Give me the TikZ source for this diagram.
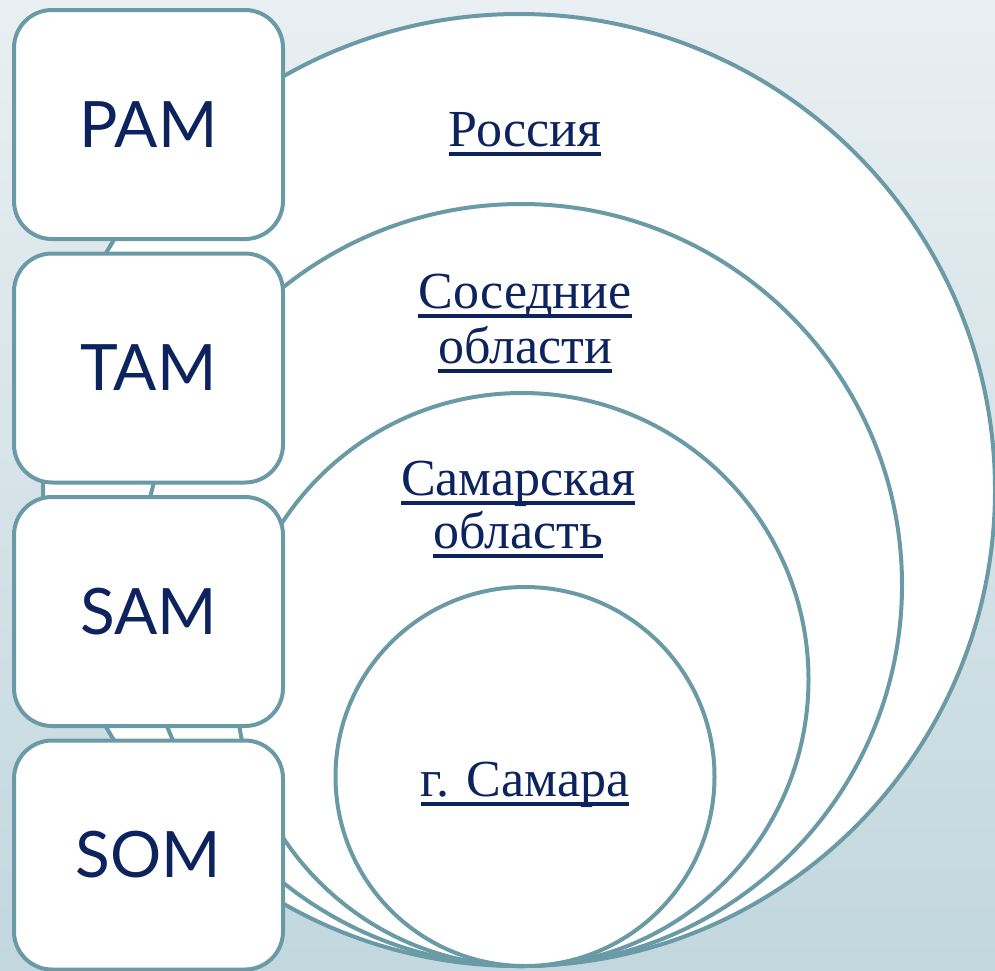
\documentclass[tikz,border=0pt]{standalone}
\usepackage{fontspec}
\setmainfont{Liberation Serif}
\newfontfamily\boxfont{Lato}
\definecolor{edge}{RGB}{107,154,167}
\definecolor{navy}{RGB}{12,35,94}
\definecolor{bgtop}{RGB}{233,239,242}
\definecolor{bgbot}{RGB}{194,215,222}
\newcommand\ulx[1]{\setbox0\hbox{#1}\rlap{\rule[-10pt]{\wd0}{3.8pt}}\box0}
\tikzset{
  ring/.style={draw=edge, line width=4pt, fill=white},
  levelbox/.style={draw=edge, line width=4pt, fill=white, rounded corners=38pt,
    minimum width=269pt, minimum height=229pt, inner sep=0pt,
    font=\boxfont\fontsize{64}{68}\selectfont, text=navy},
  ringlabel/.style={anchor=base, inner sep=0pt, text=navy,
    font=\fontsize{52}{56}\selectfont}
}
\begin{document}
\begin{tikzpicture}[x=1pt,y=-1pt]
\useasboundingbox (0,0) rectangle (995,970);
\shade[top color=bgtop, bottom color=bgbot] (0,0) rectangle (995,970);
\begin{scope}
\clip (0,0) rectangle (995,970);
\node[ring, circle, minimum size=952pt, inner sep=0pt] (c1) at (519,490) {};
\node[ring, circle, minimum size=762pt, inner sep=0pt] (c2) at (521,585) {};
\node[ring, circle, minimum size=573pt, inner sep=0pt] (c3) at (522,679.5) {};
\node[ring, circle, minimum size=379pt, inner sep=0pt] (c4) at (525,776.5) {};
\node[levelbox] (pam) at (148.5,124.5) {PAM};
\node[levelbox] (tam) at (148.5,368) {TAM};
\node[levelbox] (sam) at (148.5,611.5) {SAM};
\node[levelbox] (som) at (148.5,855) {SOM};
\end{scope}
\node[ringlabel] (t1) at (525,146) {\ulx{Россия}};
\node[ringlabel] (t2a) at (525,308) {\ulx{Соседние}};
\node[ringlabel] (t2b) at (525,363) {\ulx{области}};
\node[ringlabel] (t3a) at (518,495) {\ulx{Самарская}};
\node[ringlabel] (t3b) at (518,548) {\ulx{область}};
\node[ringlabel] (t4) at (525,796) {\ulx{г. Самара}};
\end{tikzpicture}
\end{document}
